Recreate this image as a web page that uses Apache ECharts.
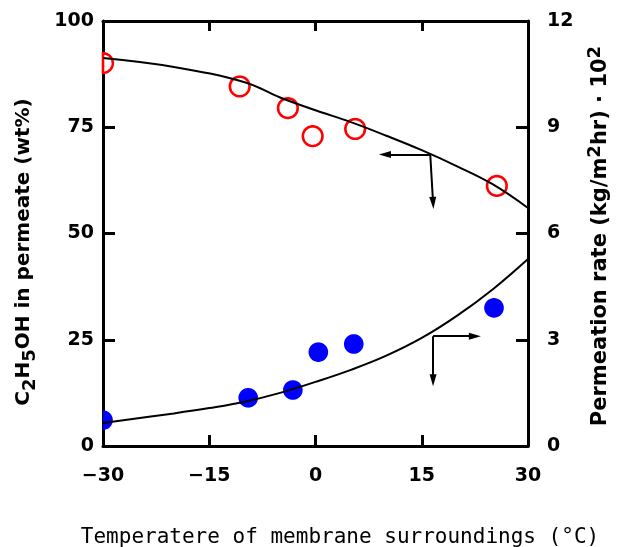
<!DOCTYPE html>
<html>
<head>
<meta charset="utf-8">
<script src="https://cdn.jsdelivr.net/npm/echarts@6/dist/echarts.min.js"></script>
<style>html,body{margin:0;padding:0;background:#fff;}#c{width:617px;height:547px;}</style>
</head>
<body>
<div id="c"></div>
<script>
// Temperature ticks
const xTicks = [-30, -15, 0, 15, 30];
const leftTicks = [0, 25, 50, 75, 100];
const rightTicks = [0, 3, 6, 9, 12];

// Open circles: C2H5OH in permeate (wt%) vs temperature
const ethanolTemp = [-30, -10.7, -3.9, -0.4, 5.6, 25.6];
const ethanolWt = [90.1, 84.6, 79.5, 72.9, 74.6, 61.2];

// Fitted curve for ethanol wt%
const ethanolCurveTemp = [-30, -20, -10, -5, 0, 5, 10, 15, 20, 25, 30];
const ethanolCurveWt = [91.3, 89.2, 85.6, 82.0, 79.0, 76.2, 73.0, 69.6, 65.8, 61.6, 56.0];

// Filled circles: permeation rate (kg/m2hr)*10^2
const rateTemp = [-30, -9.5, -3.2, 0.4, 5.4, 25.2];
const rateVal = [0.73, 1.36, 1.58, 2.65, 2.88, 3.9];

// Fitted curve for permeation rate
const rateCurveTemp = [-30, -20, -15, -10, -5, 0, 5, 10, 15, 20, 25, 30];
const rateCurveVal = [0.65, 0.92, 1.07, 1.25, 1.5, 1.81, 2.15, 2.55, 3.05, 3.68, 4.42, 5.28];

// Arrow annotations (data coordinates)
const ethanolArrowJoint = [16.2, 68.6];
const ethanolArrowLeft = [9.8, 68.6];
const ethanolArrowDown = [16.6, 57.2];
const rateArrowJoint = [16.6, 3.1];
const rateArrowRight = [22.5, 3.1];
const rateArrowDown = [16.6, 1.86];

const zip = (a, b) => a.map((v, i) => [v, b[i]]);

const chart = echarts.init(document.getElementById('c'), null, {renderer: 'canvas'});
const axisLine = {show: true, onZero: false, lineStyle: {color: '#000', width: 3}};
const tickStyle = {show: true, inside: true, length: 11, lineStyle: {color: '#000', width: 3}};
const labelFont = {color: '#000', fontFamily: 'DejaVu Sans', fontWeight: 'bold', fontSize: 19};
const fmt = v => (v < 0 ? '\u2212' + Math.abs(v) : String(v));

const arrowLine = {color: '#000', width: 2, type: 'solid'};

// Circle marker clipped to the plotting rectangle (built as a polygon)
function circleRenderer(filled, yTicks) {
  return function (params, api) {
    const p = api.coord([api.value(0), api.value(1)]);
    const c0 = api.coord([xTicks[0], yTicks[0]]);
    const c1 = api.coord([xTicks[xTicks.length - 1], yTicks[yTicks.length - 1]]);
    const xl = Math.min(c0[0], c1[0]), xr = Math.max(c0[0], c1[0]);
    const yt = Math.min(c0[1], c1[1]), yb = Math.max(c0[1], c1[1]);
    const r = 9.8, n = 72, pts = [];
    for (let i = 0; i < n; i++) {
      const a = (i / n) * Math.PI * 2;
      let x = p[0] + r * Math.cos(a), y = p[1] + r * Math.sin(a);
      x = Math.min(Math.max(x, xl), xr);
      y = Math.min(Math.max(y, yt), yb);
      pts.push([x, y]);
    }
    return {
      type: 'polygon',
      shape: {points: pts},
      style: filled ? {fill: '#00f'}
                    : {fill: '#fff', stroke: '#f00', lineWidth: 2.6}
    };
  };
}

const option = {
  animation: false,
  backgroundColor: '#fff',
  grid: {left: 103, right: 89, top: 21, bottom: 101, containLabel: false},
  xAxis: [
    {type: 'value', min: xTicks[0], max: xTicks[xTicks.length - 1], interval: 15, position: 'bottom',
      axisLine: axisLine, axisTick: tickStyle, splitLine: {show: false},
      axisLabel: Object.assign({margin: 21, formatter: fmt}, labelFont)},
    {type: 'value', min: xTicks[0], max: xTicks[xTicks.length - 1], interval: 15, position: 'top',
      axisLine: axisLine, axisTick: Object.assign({}, tickStyle, {length: 10}), splitLine: {show: false},
      axisLabel: {show: false}}
  ],
  yAxis: [
    {type: 'value', min: leftTicks[0], max: leftTicks[leftTicks.length - 1], interval: 25, position: 'left',
      axisLine: axisLine, axisTick: Object.assign({}, tickStyle, {length: 12}), splitLine: {show: false},
      axisLabel: Object.assign({margin: 9}, labelFont)},
    {type: 'value', min: rightTicks[0], max: rightTicks[rightTicks.length - 1], interval: 3, position: 'right',
      axisLine: axisLine, axisTick: Object.assign({}, tickStyle, {length: 12}), splitLine: {show: false},
      axisLabel: Object.assign({margin: 19}, labelFont)}
  ],
  series: [
    {type: 'line', xAxisIndex: 0, yAxisIndex: 0, smooth: 0.4, showSymbol: false, symbol: 'none',
      data: zip(ethanolCurveTemp, ethanolCurveWt), lineStyle: {color: '#000', width: 2},
      markLine: {silent: true, animation: false, symbol: ['none', 'triangle'], symbolSize: [7, 12], label: {show: false},
        lineStyle: arrowLine,
        data: [
          [{coord: ethanolArrowJoint, symbol: 'none'}, {coord: ethanolArrowLeft}],
          [{coord: ethanolArrowJoint, symbol: 'none'}, {coord: ethanolArrowDown}]
        ]}},
    {type: 'custom', xAxisIndex: 0, yAxisIndex: 0, z: 3,
      renderItem: circleRenderer(false, leftTicks), data: zip(ethanolTemp, ethanolWt)},
    {type: 'line', xAxisIndex: 0, yAxisIndex: 1, smooth: 0.4, showSymbol: false, symbol: 'none',
      data: zip(rateCurveTemp, rateCurveVal), lineStyle: {color: '#000', width: 2},
      markLine: {silent: true, animation: false, symbol: ['none', 'triangle'], symbolSize: [7, 12], label: {show: false},
        lineStyle: arrowLine,
        data: [
          [{coord: rateArrowJoint, symbol: 'none'}, {coord: rateArrowRight}],
          [{coord: rateArrowJoint, symbol: 'none'}, {coord: rateArrowDown}]
        ]}},
    {type: 'custom', xAxisIndex: 0, yAxisIndex: 1, z: 3,
      renderItem: circleRenderer(true, rightTicks), data: zip(rateTemp, rateVal)}
  ],
  graphic: [
    {type: 'text', x: 24, y: 252, rotation: Math.PI / 2, z: 10,
      style: {text: '{b|C}{sub|2}{b|H}{sub|5}{b|OH in permeate (wt%)}', align: 'center', verticalAlign: 'middle',
        rich: {
          b: {fontFamily: 'DejaVu Sans', fontWeight: 'bold', fontSize: 20, fill: '#000', lineHeight: 30, verticalAlign: 'middle'},
          sub: {fontFamily: 'DejaVu Sans', fontWeight: 'bold', fontSize: 18, fill: '#000', lineHeight: 17, verticalAlign: 'bottom'}
        }}},
    {type: 'text', x: 601, y: 236, rotation: Math.PI / 2, z: 10,
      style: {text: '{b|Permeation rate (kg/m}{sup|2}{b|hr) \u00b7 10}{sup|2}', align: 'center', verticalAlign: 'middle',
        rich: {
          b: {fontFamily: 'DejaVu Sans', fontWeight: 'bold', fontSize: 21, fill: '#000', lineHeight: 30, verticalAlign: 'middle'},
          sup: {fontFamily: 'DejaVu Sans', fontWeight: 'bold', fontSize: 18, fill: '#000', lineHeight: 17, verticalAlign: 'top'}
        }}},
    {type: 'text', x: 340, y: 538, z: 10,
      style: {text: 'Temperatere of membrane surroundings (\u00b0C)', align: 'center', verticalAlign: 'middle',
        font: '21px "DejaVu Sans Mono"', fill: '#000'}}
  ]
};
chart.setOption(option);
</script>
</body>
</html>
